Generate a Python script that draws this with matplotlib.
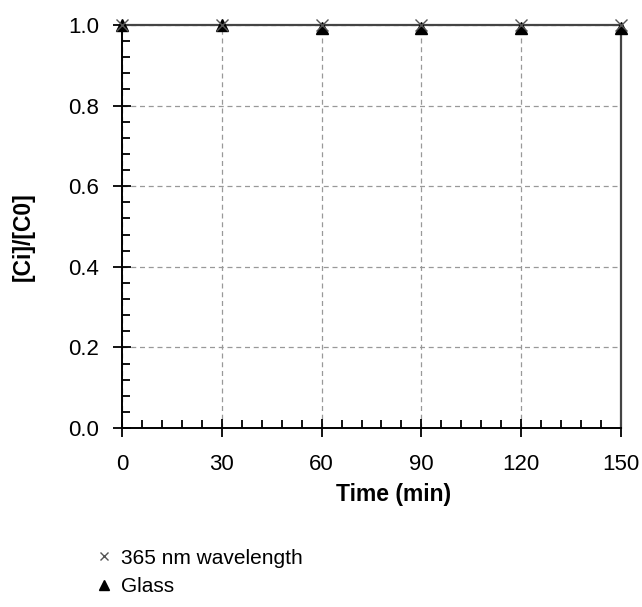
import matplotlib

matplotlib.use("Agg")
import matplotlib.pyplot as plt
from matplotlib.ticker import MultipleLocator

plt.rcParams["font.family"] = ["Liberation Sans", "DejaVu Sans"]

time_min = [0, 30, 60, 90, 120, 150]
uv_365 = [1.0, 1.0, 1.0, 1.0, 1.0, 1.0]
glass = [1.0, 1.0, 0.993, 0.993, 0.993, 0.993]

x_ticks = [0, 30, 60, 90, 120, 150]
y_ticks = [0.0, 0.2, 0.4, 0.6, 0.8, 1.0]

fig = plt.figure(figsize=(6.42, 6.07), dpi=100)
ax = fig.add_axes([122 / 642, 1 - 428 / 607, 499 / 642, 403 / 607])

ax.plot(time_min, glass, linestyle="none", marker="^", markersize=9,
        color="black", label="Glass", zorder=4, clip_on=False)
ax.plot(time_min, uv_365, linestyle="none", marker="x", markersize=8,
        markeredgewidth=1.0, color="#555555", label="365 nm wavelength",
        zorder=5, clip_on=False)

ax.set_xlim(0, 150)
ax.set_ylim(0, 1.0)
ax.set_xticks(x_ticks)
ax.set_yticks(y_ticks)
ax.set_yticklabels([f"{v:.1f}" for v in y_ticks])
ax.xaxis.set_minor_locator(MultipleLocator(6))
ax.yaxis.set_minor_locator(MultipleLocator(0.04))

ax.tick_params(which="major", direction="inout", length=13, width=1.3,
               labelsize=16, colors="black")
ax.tick_params(which="minor", direction="in", length=6, width=1.3)
ax.tick_params(axis="x", which="major", pad=12)
ax.tick_params(axis="y", which="major", pad=10)

ax.grid(True, which="major", linestyle=(0, (4, 3)), color="#999999",
        linewidth=0.9)

for side in ["left", "bottom"]:
    ax.spines[side].set_linewidth(1.4)
    ax.spines[side].set_color("black")
for side in ["top", "right"]:
    ax.spines[side].set_linewidth(1.6)
    ax.spines[side].set_color("#444444")

fig.text(394 / 642, 1 - 494 / 607, "Time (min)", fontsize=16.5,
         fontweight="bold", ha="center", va="center")
fig.text(23 / 642, 1 - 237 / 607, "[Ci]/[C0]", fontsize=16.5,
         fontweight="bold", ha="center", va="center", rotation=90)

handles, labels = ax.get_legend_handles_labels()
fig.legend(handles[::-1], labels[::-1], loc="upper left",
           bbox_to_anchor=(80 / 642, 1 - 534 / 607), frameon=False,
           fontsize=15, handletextpad=0.35, handlelength=0.9,
           labelspacing=0.45, markerscale=0.75, borderpad=0.2)

fig.savefig("out.png", dpi=100, facecolor="white")
